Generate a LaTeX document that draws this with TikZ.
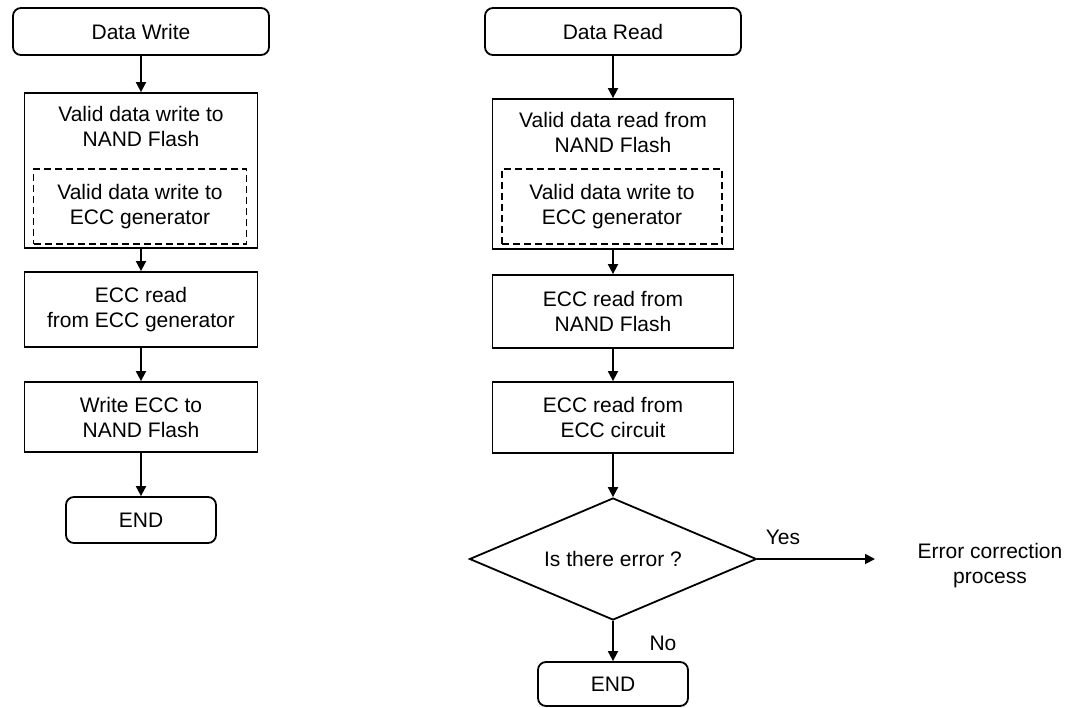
\documentclass[tikz,border=0pt]{standalone}
\usepackage{fontspec}
\setmainfont{Liberation Sans}
\usetikzlibrary{arrows.meta, shapes.geometric}

\begin{document}
\begin{tikzpicture}[x=1pt, y=-1pt,
    font=\fontsize{21}{25}\selectfont,
    box/.style={draw, line width=1.8pt, align=center, inner sep=0pt},
    term/.style={box, rounded corners=8pt},
    inbox/.style={box, dash pattern=on 7pt off 4pt},
    check/.style={box, diamond, aspect=2.35},
    lbl/.style={align=center, inner sep=0pt},
    flow/.style={line width=1.8pt, -{Triangle[length=10pt,width=10pt]}}]
    \useasboundingbox (0,0) rectangle (1076,707);

    % write side
    \node[term, minimum width=256pt, minimum height=47pt] (wstart) at (141,31.5) {Data Write};
    \node[box, minimum width=233pt, minimum height=155pt] (wvalid) at (141,170.5) {};
    \node[lbl] (wvalidtxt) at (141,126) {Valid data write to\\NAND Flash};
    \node[inbox, minimum width=213pt, minimum height=75pt] (wgen) at (140,206.5) {Valid data write to\\ECC generator};
    \node[box, minimum width=233pt, minimum height=75pt] (wecc) at (141,309.5) {ECC read\\from ECC generator};
    \node[box, minimum width=233pt, minimum height=70pt] (wnand) at (141,417) {Write ECC to\\NAND Flash};
    \node[term, minimum width=150pt, minimum height=46pt] (wend) at (141,520) {END};

    \draw[flow] (wstart) -- (wvalid);
    \draw[flow] (wvalid) -- (wecc);
    \draw[flow] (wecc) -- (wnand);
    \draw[flow] (wnand) -- (wend);

    % read side
    \node[term, minimum width=256pt, minimum height=47pt] (rstart) at (613,31.5) {Data Read};
    \node[box, minimum width=241pt, minimum height=150pt] (rvalid) at (613,174) {};
    \node[lbl] (rvalidtxt) at (613,132) {Valid data read from\\NAND Flash};
    \node[inbox, minimum width=220pt, minimum height=75pt] (rgen) at (612,206.5) {Valid data write to\\ECC generator};
    \node[box, minimum width=241pt, minimum height=73pt] (recc) at (613,311.5) {ECC read from\\NAND Flash};
    \node[box, minimum width=241pt, minimum height=71pt] (rcirc) at (613,417.5) {ECC read from\\ECC circuit};
    \node[check, minimum width=287pt, minimum height=122pt] (rchk) at (613,559) {Is there error ?};
    \node[term, minimum width=150pt, minimum height=44pt] (rend) at (613,684) {END};
    \node[lbl] (rfix) at (990,566) {Error correction\\process};
    \coordinate (yesend) at (875,559);

    \draw[flow] (rstart) -- (rvalid);
    \draw[flow] (rvalid) -- (recc);
    \draw[flow] (recc) -- (rcirc);
    \draw[flow] (rcirc) -- (rchk);
    \draw[flow] (rchk) -- (yesend);
    \draw[flow] (rchk) -- (rend);
    \node[lbl] (yes) at (783,537) {Yes};
    \node[lbl] (no) at (663,643) {No};
\end{tikzpicture}
\end{document}
